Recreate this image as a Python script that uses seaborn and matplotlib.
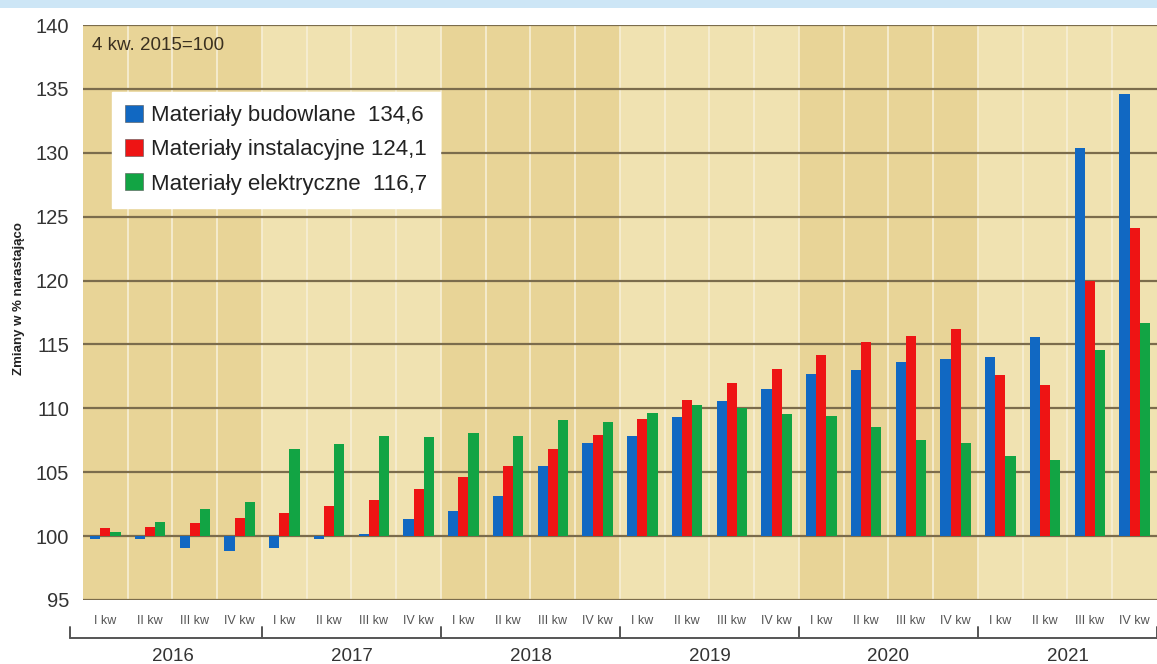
import numpy as np
import pandas as pd
import seaborn as sns
import matplotlib.pyplot as plt
from matplotlib.patches import Patch, Rectangle
from matplotlib.ticker import FuncFormatter
import matplotlib.transforms as mtransforms

# Data (index, 4 kw. 2015 = 100)
years = ['2016', '2017', '2018', '2019', '2020', '2021']
quarters = ['I kw', 'II kw', 'III kw', 'IV kw']
budowlane = [99.75, 99.75, 99.1, 98.8, 99.1, 99.8, 100.2, 101.3,
             102.0, 103.1, 105.5, 107.3, 107.8, 109.3, 110.6, 111.5,
             112.7, 113.0, 113.6, 113.9, 114.0, 115.6, 130.4, 134.6]
instalacyjne = [100.65, 100.7, 101.0, 101.4, 101.8, 102.35, 102.8, 103.7,
                104.6, 105.45, 106.8, 107.9, 109.2, 110.65, 111.95, 113.05,
                114.2, 115.2, 115.65, 116.2, 112.6, 111.8, 120.0, 124.1]
elektryczne = [100.3, 101.1, 102.15, 102.65, 106.8, 107.2, 107.8, 107.75,
               108.05, 107.8, 109.1, 108.9, 109.6, 110.3, 110.0, 109.55,
               109.4, 108.55, 107.55, 107.3, 106.3, 105.95, 114.6, 116.7]
series_names = ['Materiały budowlane', 'Materiały instalacyjne', 'Materiały elektryczne']
legend_labels = ['Materiały budowlane  134,6', 'Materiały instalacyjne 124,1',
                 'Materiały elektryczne  116,7']
colors = ['#1168c2', '#ee1414', '#12a444']

periods = [f'{y} {q}' for y in years for q in quarters]
df = pd.DataFrame({
    'okres': periods * 3,
    'seria': np.repeat(series_names, len(periods)),
    'wartosc': budowlane + instalacyjne + elektryczne,
})
df['zmiana'] = df['wartosc'] - 100  # bars grow from the 100 baseline

sns.set_style('white')
plt.rcParams['font.family'] = ['Liberation Sans', 'DejaVu Sans']

fig = plt.figure(figsize=(11.57, 6.64), dpi=100)
fig.patches.append(Rectangle((0, 0.988), 1, 0.012, transform=fig.transFigure,
                             facecolor='#cde6f6', edgecolor='none'))
ax = fig.add_axes([0.0717, 0.0964, 0.9283, 0.8659])

# year bands and quarter separators
dark, light = '#e8d497', '#f0e2b1'
for i in range(len(years)):
    ax.axvspan(i * 4 - 0.5, i * 4 + 3.5, color=dark if i % 2 == 0 else light,
               zorder=0, lw=0)
for k in range(1, len(periods)):
    ax.axvline(k - 0.5, color='#f7efd6', lw=1.2, zorder=0.5)
for v in range(-5, 41, 5):
    ax.axhline(v, color='#7b6c4c', lw=1.6, zorder=1)

sns.barplot(data=df, x='okres', y='zmiana', hue='seria', order=periods,
            hue_order=series_names, palette=colors, width=0.68, saturation=1,
            linewidth=0, legend=False, ax=ax, zorder=3)

ax.set_xlim(-0.5, len(periods) - 0.5)
ax.set_ylim(-5, 40)
ax.set_yticks(range(-5, 41, 5))
ax.yaxis.set_major_formatter(FuncFormatter(lambda v, p: f'{v + 100:.0f}'))
ax.tick_params(axis='y', length=7, width=1.6, color='#7b6c4c', labelsize=14.5,
               labelcolor='#333333', pad=3)
ax.set_xticks(range(len(periods)))
ax.set_xticklabels(quarters * len(years), fontsize=9, color='#555555')
ax.tick_params(axis='x', length=0, pad=11)
ax.set_xlabel('')
ax.set_ylabel('Zmiany w % narastająco', fontsize=9.5, fontweight='bold',
              color='#222222')
ax.yaxis.set_label_coords(-0.054, 0.525)
for s in ax.spines.values():
    s.set_visible(False)

# year bracket below the quarter labels
trans = mtransforms.blended_transform_factory(ax.transData, ax.transAxes)
ax.plot([-0.8, len(periods) - 0.5], [-0.066, -0.066], color='#555555', lw=1.4,
        transform=trans, clip_on=False)
for i in range(len(years) + 1):
    x = i * 4 - 0.5 if i > 0 else -0.8
    ax.plot([x, x], [-0.066, -0.047], color='#555555', lw=1.4,
            transform=trans, clip_on=False)
for i, y in enumerate(years):
    ax.text(i * 4 + 1.5, -0.098, y, transform=trans, ha='center', va='center',
            fontsize=13.5, color='#333333')

ax.text(0.008, 0.965, '4 kw. 2015=100', transform=ax.transAxes, fontsize=13.5,
        color='#3a3020', va='center', ha='left')

handles = [Patch(facecolor=c, edgecolor='#555555', lw=0.4) for c in colors]
leg = ax.legend(handles, legend_labels, loc='upper left',
                bbox_to_anchor=(0.027, 0.884), fontsize=16, frameon=True,
                fancybox=False, framealpha=1, edgecolor='white',
                handlelength=0.8, handleheight=0.8, handletextpad=0.35,
                labelspacing=0.58, borderpad=0.6, borderaxespad=0)
leg.set_zorder(5)
for t in leg.get_texts():
    t.set_color('#222222')

fig.savefig('out.png', dpi=100)
